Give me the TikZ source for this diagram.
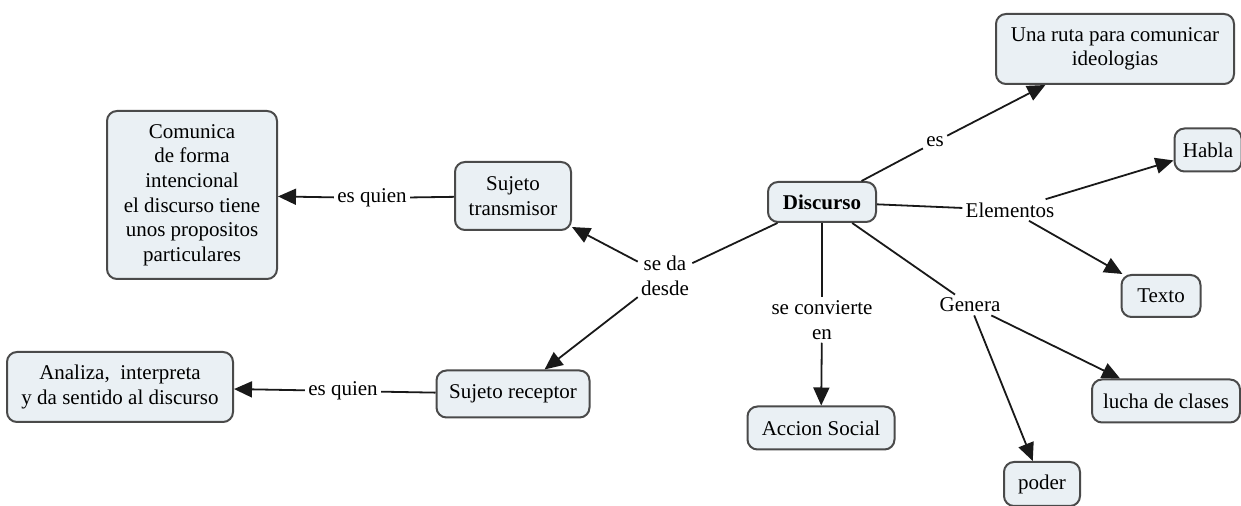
\documentclass[tikz,border=0pt]{standalone}
\usepackage{fontspec}
\setmainfont{Liberation Serif}
\usetikzlibrary{arrows.meta, positioning}
\definecolor{conceptfill}{HTML}{EAF0F4}
\definecolor{conceptdraw}{HTML}{4A4A4A}

\tikzset{
  concept/.style={draw=conceptdraw, line width=1pt, rounded corners=5pt, fill=conceptfill,
    align=center, inner sep=2pt, font=\fontsize{10.5}{12.3}\selectfont},
  linkword/.style={inner sep=1.5pt, align=center, font=\fontsize{10.5}{12.3}\selectfont},
  link/.style={line width=0.9pt, black!90},
  linkarrow/.style={link, -{Triangle[length=9pt,width=8pt]}}
}

\begin{document}
\begin{tikzpicture}[x=0.5pt, y=-0.5pt]
  \useasboundingbox (0,0) rectangle (1241,506);

  % central concept
  \node[concept, minimum width=54pt, minimum height=20pt, font=\fontsize{10.5}{12.3}\selectfont\bfseries] (disc) at (822, 202) {Discurso};

  % right side
  \node[concept, minimum width=119pt, minimum height=35pt] (ruta) at (1115, 49) {Una ruta para comunicar\\ideologias};
  \node[concept, minimum width=33.5pt, minimum height=21.5pt] (habla) at (1208, 150) {Habla};
  \node[concept, minimum width=39.5pt, minimum height=21pt] (texto) at (1161, 296) {Texto};
  \node[concept, minimum width=74pt, minimum height=21.5pt] (lucha) at (1166, 401) {lucha de clases};
  \node[concept, minimum width=38pt, minimum height=22pt] (poder) at (1042, 484) {poder};
  \node[concept, minimum width=73.5pt, minimum height=21.5pt] (accion) at (821, 428) {Accion Social};

  % left side
  \node[concept, minimum width=58pt, minimum height=34pt] (trans) at (513, 196) {Sujeto\\transmisor};
  \node[concept, minimum width=76.5pt, minimum height=23.5pt] (recep) at (513, 394) {Sujeto receptor};
  \node[concept, minimum width=85pt, minimum height=84pt] (comun) at (192, 195)
    {Comunica\\de forma\\intencional\\el discurso tiene\\unos propositos\\particulares};
  \node[concept, minimum width=113pt, minimum height=35pt] (anal) at (120, 387)
    {Analiza,\ \ interpreta\\y da sentido al discurso};

  % linking words
  \node[linkword] (es) at (935, 142) {es};
  \node[linkword] (elem) at (1010, 210) {Elementos};
  \node[linkword] (conv) at (822, 320) {se convierte\\en};
  \node[linkword] (gen) at (970, 305) {Genera};
  \node[linkword] (desde) at (665, 276) {se da\\desde};
  \node[linkword] (quien1) at (372, 198) {es quien};
  \node[linkword] (quien2) at (343, 391) {es quien};

  % connectors
  \draw[link] (disc) -- (es);
  \draw[linkarrow] (es) -- (ruta);
  \draw[link] (disc) -- (elem);
  \draw[linkarrow] (elem) -- (habla);
  \draw[linkarrow] (elem) -- (texto);
  \draw[link] (disc) -- (conv);
  \draw[linkarrow] (conv) -- (accion);
  \draw[link] (disc) -- (gen);
  \draw[linkarrow] (gen) -- (lucha);
  \draw[linkarrow] (gen) -- (poder);
  \draw[link] (disc) -- (desde);
  \draw[linkarrow] (desde) -- (trans);
  \draw[linkarrow] (desde) -- (recep);
  \draw[link] (trans) -- (quien1);
  \draw[linkarrow] (quien1) -- (comun);
  \draw[link] (recep) -- (quien2);
  \draw[linkarrow] (quien2) -- (anal);
\end{tikzpicture}
\end{document}
